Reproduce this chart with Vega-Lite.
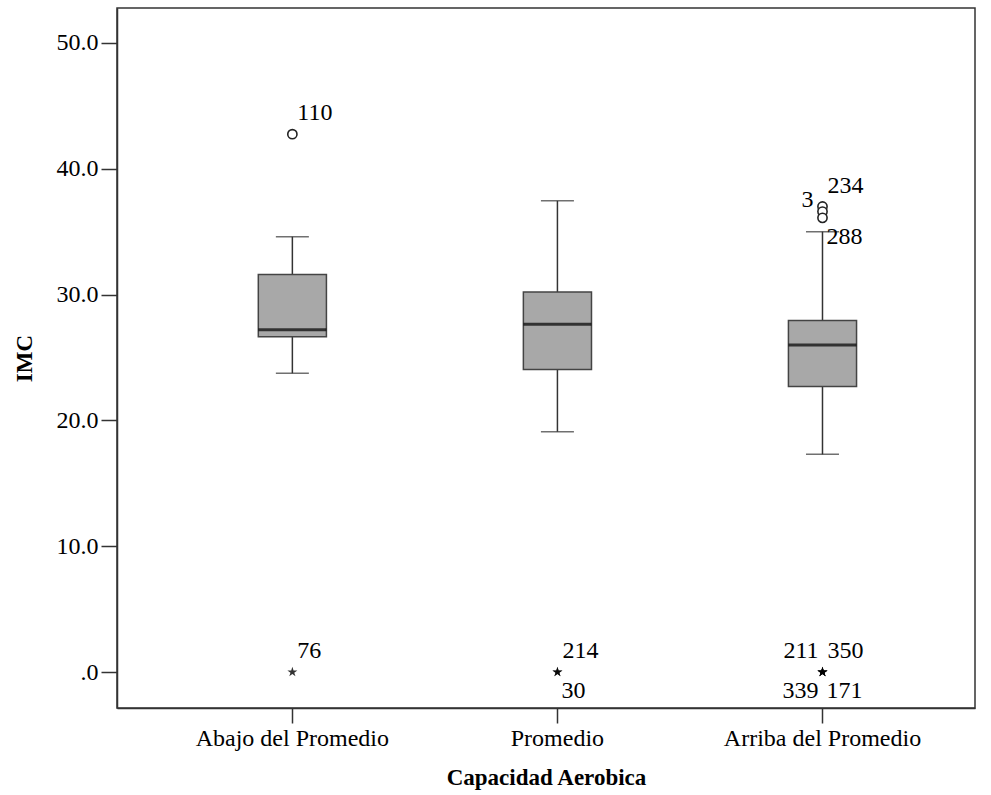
{
  "$schema": "https://vega.github.io/schema/vega-lite/v6.json",
  "width": 858,
  "height": 700,
  "autosize": "none",
  "padding": {"left": 117, "top": 8, "right": 16, "bottom": 87},
  "background": "white",
  "config": {
    "font": "Liberation Serif",
    "view": {"stroke": "#333333", "strokeWidth": 1.5},
    "axis": {
      "grid": false,
      "domainColor": "#333333",
      "domainWidth": 1.5,
      "tickColor": "#333333",
      "tickWidth": 1.5,
      "labelColor": "black",
      "labelFont": "Liberation Serif",
      "labelFontSize": 24,
      "labelLimit": 400,
      "titleColor": "black",
      "titleFont": "Liberation Serif",
      "titleFontSize": 23,
      "titleFontWeight": "bold"
    },
    "axisX": {"labelAngle": 0, "tickSize": 15, "labelPadding": 3, "titlePadding": 16},
    "axisY": {"tickSize": 16, "labelPadding": 3, "titlePadding": 20}
  },
  "datasets": {
    "cajas": [
      {"cat": "Abajo del Promedio", "lower": 23.75, "q1": 26.65, "median": 27.2, "q3": 31.6, "upper": 34.6},
      {"cat": "Promedio", "lower": 19.1, "q1": 24.05, "median": 27.65, "q3": 30.2, "upper": 37.45},
      {"cat": "Arriba del Promedio", "lower": 17.3, "q1": 22.7, "median": 26.0, "q3": 27.95, "upper": 35.0}
    ],
    "atipicos": [
      {"cat": "Abajo del Promedio", "imc": 42.75, "caso": "110", "tipo": "circulo"},
      {"cat": "Abajo del Promedio", "imc": 0, "caso": "76", "tipo": "estrella"},
      {"cat": "Promedio", "imc": 0, "caso": "214", "tipo": "estrella"},
      {"cat": "Promedio", "imc": 0, "caso": "30", "tipo": "estrella"},
      {"cat": "Arriba del Promedio", "imc": 37.0, "caso": "234", "tipo": "circulo"},
      {"cat": "Arriba del Promedio", "imc": 36.6, "caso": "3", "tipo": "circulo"},
      {"cat": "Arriba del Promedio", "imc": 36.1, "caso": "288", "tipo": "circulo"},
      {"cat": "Arriba del Promedio", "imc": 0, "caso": "211", "tipo": "estrella"},
      {"cat": "Arriba del Promedio", "imc": 0, "caso": "350", "tipo": "estrella"},
      {"cat": "Arriba del Promedio", "imc": 0, "caso": "339", "tipo": "estrella"},
      {"cat": "Arriba del Promedio", "imc": 0, "caso": "171", "tipo": "estrella"}
    ]
  },
  "encoding": {
    "x": {
      "field": "cat",
      "type": "nominal",
      "sort": ["Abajo del Promedio", "Promedio", "Arriba del Promedio"],
      "title": "Capacidad Aerobica",
      "scale": {"paddingInner": 0.743, "paddingOuter": 0.49, "align": 0.544}
    }
  },
  "layer": [
    {
      "data": {"name": "cajas"},
      "mark": {"type": "rule", "color": "#333333", "strokeWidth": 1.5},
      "encoding": {
        "y": {
          "field": "lower",
          "type": "quantitative",
          "title": "IMC",
          "scale": {"domain": [-2.86, 52.78], "nice": false, "zero": false},
          "axis": {"values": [0, 10, 20, 30, 40, 50], "labelExpr": "datum.value == 0 ? '.0' : format(datum.value, '.1f')"}
        },
        "y2": {"field": "upper"}
      }
    },
    {
      "data": {"name": "cajas"},
      "mark": {"type": "tick", "color": "#333333", "thickness": 1.5, "size": 33},
      "encoding": {"y": {"field": "lower", "type": "quantitative", "title": "IMC"}}
    },
    {
      "data": {"name": "cajas"},
      "mark": {"type": "tick", "color": "#333333", "thickness": 1.5, "size": 33},
      "encoding": {"y": {"field": "upper", "type": "quantitative", "title": "IMC"}}
    },
    {
      "data": {"name": "cajas"},
      "mark": {"type": "bar", "fill": "#a8a8a8", "stroke": "#444444", "strokeWidth": 1.5},
      "encoding": {
        "y": {"field": "q1", "type": "quantitative", "title": "IMC"},
        "y2": {"field": "q3"}
      }
    },
    {
      "data": {"name": "cajas"},
      "mark": {"type": "tick", "color": "black", "thickness": 3, "size": 68},
      "encoding": {"y": {"field": "median", "type": "quantitative", "title": "IMC"}}
    },
    {
      "data": {"name": "atipicos"},
      "transform": [{"filter": "datum.tipo == 'circulo'"}],
      "mark": {"type": "point", "shape": "circle", "size": 85, "filled": false, "stroke": "#222222", "strokeWidth": 1.6, "fill": "white", "fillOpacity": 1},
      "encoding": {"y": {"field": "imc", "type": "quantitative", "title": "IMC"}}
    },
    {
      "data": {"name": "atipicos"},
      "transform": [{"filter": "datum.tipo == 'estrella'"}],
      "mark": {"type": "point", "shape": "M0,-1L0.223,-0.307L0.951,-0.309L0.361,0.117L0.588,0.809L0,0.38L-0.588,0.809L-0.361,0.117L-0.951,-0.309L-0.223,-0.307Z", "size": 110, "filled": true, "color": "black", "opacity": 0.8},
      "encoding": {"y": {"field": "imc", "type": "quantitative", "title": "IMC"}}
    },
    {
      "data": {"name": "atipicos"},
      "transform": [{"filter": {"field": "caso", "oneOf": ["110", "76", "214", "350", "234"]}}],
      "mark": {"type": "text", "align": "left", "baseline": "middle", "dx": 5, "dy": -21, "fontSize": 24, "color": "black"},
      "encoding": {"y": {"field": "imc", "type": "quantitative", "title": "IMC"}, "text": {"field": "caso"}}
    },
    {
      "data": {"name": "atipicos"},
      "transform": [{"filter": {"field": "caso", "oneOf": ["30", "171", "288"]}}],
      "mark": {"type": "text", "align": "left", "baseline": "middle", "dx": 4, "dy": 19, "fontSize": 24, "color": "black"},
      "encoding": {"y": {"field": "imc", "type": "quantitative", "title": "IMC"}, "text": {"field": "caso"}}
    },
    {
      "data": {"name": "atipicos"},
      "transform": [{"filter": {"field": "caso", "oneOf": ["211"]}}],
      "mark": {"type": "text", "align": "right", "baseline": "middle", "dx": -4, "dy": -21, "fontSize": 24, "color": "black"},
      "encoding": {"y": {"field": "imc", "type": "quantitative", "title": "IMC"}, "text": {"field": "caso"}}
    },
    {
      "data": {"name": "atipicos"},
      "transform": [{"filter": {"field": "caso", "oneOf": ["339"]}}],
      "mark": {"type": "text", "align": "right", "baseline": "middle", "dx": -4, "dy": 19, "fontSize": 24, "color": "black"},
      "encoding": {"y": {"field": "imc", "type": "quantitative", "title": "IMC"}, "text": {"field": "caso"}}
    },
    {
      "data": {"name": "atipicos"},
      "transform": [{"filter": {"field": "caso", "oneOf": ["3"]}}],
      "mark": {"type": "text", "align": "right", "baseline": "middle", "dx": -9, "dy": -12, "fontSize": 24, "color": "black"},
      "encoding": {"y": {"field": "imc", "type": "quantitative", "title": "IMC"}, "text": {"field": "caso"}}
    }
  ]
}
